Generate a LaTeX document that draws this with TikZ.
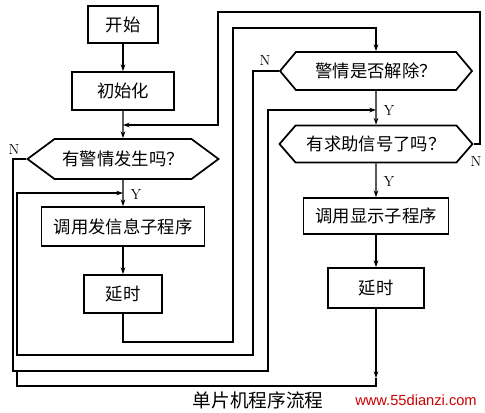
\documentclass[tikz,border=0pt]{standalone}
\usepackage{fontspec}
\newfontfamily\cjk{Noto Sans CJK SC}
\newfontfamily\webfont{Liberation Sans}
\usetikzlibrary{arrows.meta, shapes.symbols}

\begin{document}
\begin{tikzpicture}[
    x=0.75pt, y=-0.75pt,
    line width=1pt,
    box/.style={rectangle, draw, line width=1.3pt, inner sep=0pt, font=\cjk\fontsize{13}{15}\selectfont},
    decision/.style={signal, signal to=west and east, draw, line width=1.3pt, inner sep=0pt, font=\cjk\fontsize{13}{15}\selectfont},
    yn/.style={font=\fontsize{11}{13}\selectfont, inner sep=0pt},
    arr/.style={-{Stealth[length=5pt, width=3.5pt]}}
]
    \useasboundingbox (0,0) rectangle (485,412);

    % Left column
    \node[box, minimum width=52.5pt, minimum height=27.75pt] (start) at (123,24.5) {开始};
    \node[box, minimum width=76.5pt, minimum height=28.5pt] (init) at (123,91) {初始化};
    \node[decision, minimum width=143.25pt, minimum height=30pt, signal pointer angle=73] (alarm) at (123,159) {有警情发生吗？};
    \node[box, minimum width=122.25pt, minimum height=29.25pt] (send) at (123,226.5) {调用发信息子程序};
    \node[box, minimum width=58.5pt, minimum height=28.5pt] (delayL) at (123,294) {延时};

    % Right column
    \node[decision, minimum width=144pt, minimum height=28.5pt, signal pointer angle=100] (clear) at (376,71) {警情是否解除？};
    \node[decision, minimum width=144.75pt, minimum height=27.75pt, signal pointer angle=98] (help) at (376,144) {有求助信号了吗？};
    \node[box, minimum width=108.75pt, minimum height=27pt] (show) at (376,216) {调用显示子程序};
    \node[box, minimum width=72pt, minimum height=30pt] (delayR) at (376,288) {延时};

    % Junctions
    \coordinate (jA) at (123,125);
    \coordinate (jB) at (123,193);
    \coordinate (jC) at (376,110);
    \coordinate (jD) at (17,371);
    \coordinate (dR) at (376,378);

    % Main flow
    \draw[arr] (start) -- (init);
    \draw[arr] (init) -- (alarm);
    \draw[arr] (alarm) -- (send);
    \draw[arr] (send) -- (delayL);
    \draw[arr] (clear) -- (help);
    \draw[arr] (help) -- (show);
    \draw[arr] (show) -- (delayR);

    % Loops
    \draw[arr] (delayL.south) -- (123,342) -| (233,28) -| (clear.north);
    \draw[arr] (clear.west) -- (253,71) |- (17,355) |- (jB);
    \draw[arr] (alarm.west) -- (13,159) |- (268,371) |- (jC);
    \draw[arr] (help.east) -- (480,144) |- (218,12) |- (jA);
    \draw[arr] (delayR.south) -- (dR);
    \draw (dR) |- (17,386) -- (jD);

    % Labels
    \node[yn] (nA) at (14,149) {N};
    \node[yn] (yA) at (136,194) {Y};
    \node[yn] (nB) at (265,60) {N};
    \node[yn] (yB) at (389,110) {Y};
    \node[yn] (yC) at (389,181) {Y};
    \node[yn] (nC) at (476,161) {N};

    \node[font=\cjk\fontsize{14}{16}\selectfont] (title) at (258,400) {单片机程序流程};
    \node[font=\webfont\fontsize{11}{13}\selectfont, text=red!80!black] (web) at (416,400) {www.55dianzi.com};
\end{tikzpicture}
\end{document}
